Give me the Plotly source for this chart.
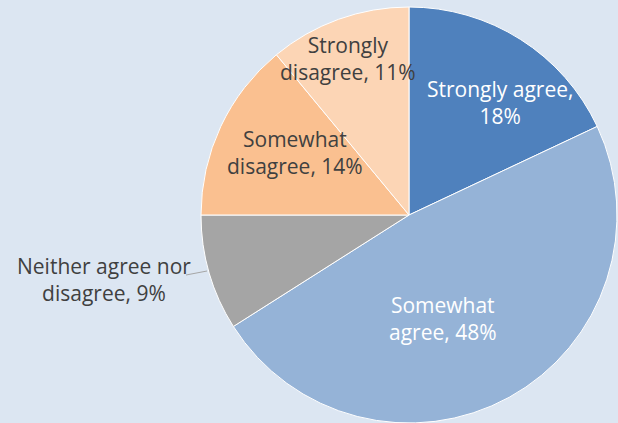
import plotly.graph_objects as go

W, H = 618, 423

categories = ["Strongly agree", "Somewhat agree", "Neither agree nor disagree",
              "Somewhat disagree", "Strongly disagree"]
values = [18, 48, 9, 14, 11]
colors = ["#4f81bd", "#95b3d7", "#a5a5a5", "#fac090", "#fcd5b5"]
label_lines = [["Strongly agree,", "{v}%"],
               ["Somewhat", "agree, {v}%"],
               ["Neither agree nor", "disagree, {v}%"],
               ["Somewhat", "disagree, {v}%"],
               ["Strongly", "disagree, {v}%"]]
text_colors = ["#ffffff", "#ffffff", "#404040", "#404040", "#404040"]
# label centres in pixels
label_pos = [(500, 102), (443, 318), (104, 279), (295, 152), (348, 59)]

fig = go.Figure()
fig.add_trace(go.Pie(
    labels=categories, values=values, sort=False, direction="clockwise",
    rotation=0, marker=dict(colors=colors, line=dict(color="#ffffff", width=1)),
    textinfo="none", hoverinfo="label+percent", showlegend=False,
    domain=dict(x=[201 / W, 617 / W], y=[0 / H, (H - 7) / H]),
))

annotations = []
for lines, v, c, (px, py) in zip(label_lines, values, text_colors, label_pos):
    txt = "<br>".join(l.format(v=v) for l in lines)
    annotations.append(dict(
        x=px / W, y=1 - py / H, xref="paper", yref="paper", text=txt,
        xanchor="center", yanchor="middle",
        showarrow=False, align="center",
        font=dict(family="Open Sans, Noto Sans, sans-serif", size=21, color=c),
    ))

fig.update_layout(
    width=W, height=H, margin=dict(l=0, r=0, t=0, b=0),
    paper_bgcolor="#dce6f2", plot_bgcolor="#dce6f2",
    annotations=annotations,
    shapes=[dict(type="line", xref="paper", yref="paper",
                 x0=186 / W, y0=1 - 275 / H, x1=207 / W, y1=1 - 271 / H,
                 line=dict(color="#a6a6a6", width=1))],
)

fig.write_html("out.html", config={"displayModeBar": False},
               post_script="document.body.style.margin='0';document.body.style.overflow='hidden';")
